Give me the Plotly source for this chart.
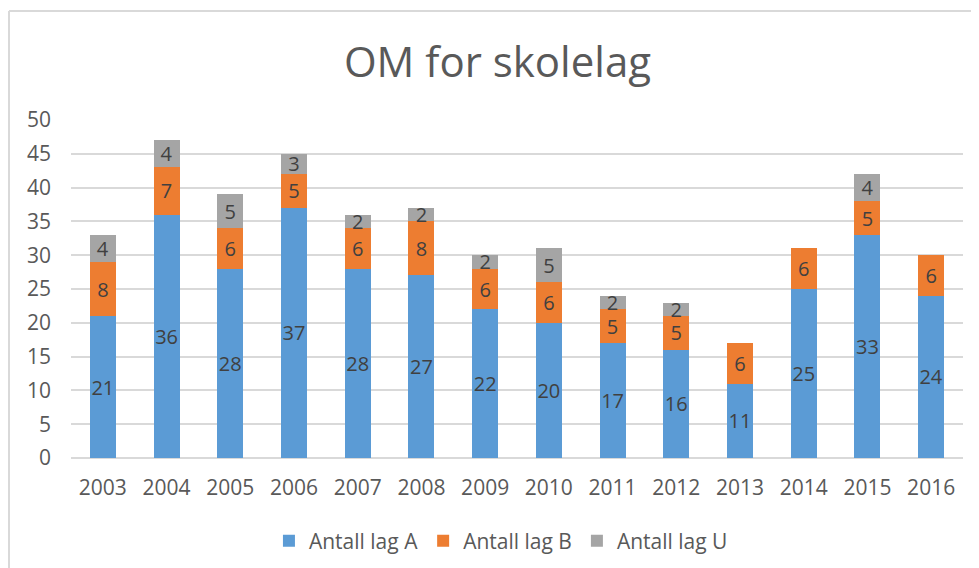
import plotly.graph_objects as go

years = ["2003", "2004", "2005", "2006", "2007", "2008", "2009", "2010",
         "2011", "2012", "2013", "2014", "2015", "2016"]
lag_a = [21, 36, 28, 37, 28, 27, 22, 20, 17, 16, 11, 25, 33, 24]
lag_b = [8, 7, 6, 5, 6, 8, 6, 6, 5, 5, 6, 6, 5, 6]
lag_u = [4, 4, 5, 3, 2, 2, 2, 5, 2, 2, None, None, 4, None]

names = ["Antall lag A", "Antall lag B", "Antall lag U"]
colors = ["#5b9bd5", "#ed7d31", "#a5a5a5"]
FONT = "Open Sans"

fig = go.Figure()
for name, vals, col in zip(names, [lag_a, lag_b, lag_u], colors):
    fig.add_trace(go.Bar(
        x=years, y=vals, name=name,
        marker=dict(color=col, line=dict(width=0)),
        text=[("" if v is None else str(v)) for v in vals],
        textposition="inside", insidetextanchor="middle",
        textangle=0, constraintext="none",
        textfont=dict(family=FONT, size=20, color="#404040"),
        hoverinfo="skip",
    ))

fig.update_layout(
    barmode="stack",
    bargap=0.59,
    width=979, height=568,
    margin=dict(l=63, r=24, t=112, b=118),
    paper_bgcolor="white", plot_bgcolor="white",
    font=dict(family=FONT, color="#595959"),
    title=dict(text="OM for skolelag", x=0.5, xanchor="center",
               y=0.905, yanchor="middle",
               font=dict(family=FONT, size=42, color="#595959")),
    legend=dict(orientation="h", x=0.482, xanchor="center", y=-0.2456, yanchor="middle",
                font=dict(family=FONT, size=21, color="#595959"),
                itemwidth=30, traceorder="normal"),
    xaxis=dict(showgrid=False, showline=False, ticks="",
               tickfont=dict(family=FONT, size=21, color="#595959"),
               ticklabelstandoff=15),
    yaxis=dict(range=[0, 50], dtick=5, showgrid=True, gridcolor="#d9d9d9",
               gridwidth=1.5, zeroline=True, zerolinecolor="#d9d9d9",
               zerolinewidth=1.5, showline=False, ticks="",
               tickfont=dict(family=FONT, size=21, color="#595959"),
               ticklabelstandoff=19),
    shapes=[
        dict(type="line", xref="paper", yref="paper", x0=-0.0695, x1=1.1,
             y0=1.3225, y1=1.3225, line=dict(color="#d9d9d9", width=2)),
        dict(type="line", xref="paper", yref="paper", x0=-0.0695, x1=-0.0695,
             y0=-1, y1=1.3225, line=dict(color="#d9d9d9", width=2)),
    ],
)

fig.write_html("out.html", config={"displayModeBar": False})
